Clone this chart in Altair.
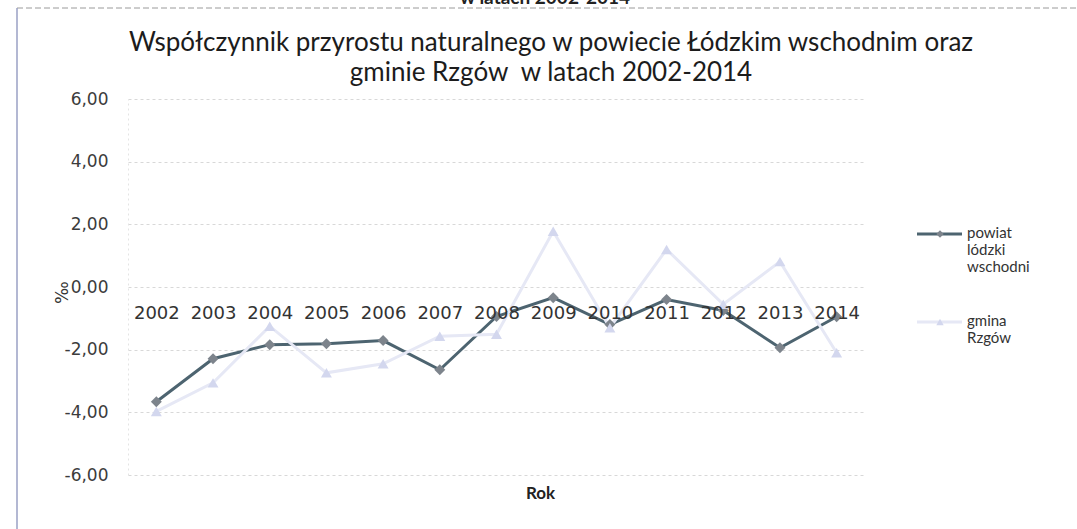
import altair as alt
import pandas as pd

# Natural increase rate (per mille), 2002-2014
years = [str(y) for y in range(2002, 2015)]
powiat = [-3.66, -2.29, -1.84, -1.81, -1.71, -2.64, -0.94, -0.34, -1.20, -0.40, -0.75, -1.94, -0.95]
gmina = [-3.97, -3.06, -1.25, -2.74, -2.45, -1.57, -1.51, 1.78, -1.30, 1.20, -0.55, 0.81, -2.10]

series_names = ["powiat|lódzki|wschodni", "gmina|Rzgów"]
series_colors = ["#4d6470", "#e6e8f5"]
marker_colors = ["#7d848c", "#d3d7ee"]
marker_shapes = ["diamond", "triangle-up"]

title_text = (
    "Współczynnik przyrostu naturalnego w powiecie Łódzkim wschodnim oraz"
    "|gminie Rzgów\u00a0 w latach 2002-2014"
)
heading_above = "w latach 2002-2014"
y_ticks = [-6, -4, -2, 0, 2, 4, 6]

rows = []
for name, vals in zip(series_names, [powiat, gmina]):
    for yr, v in zip(years, vals):
        rows.append({"Rok": yr, "seria": name, "wartosc": v})
df = pd.DataFrame(rows)

W, H = 737, 376

x_enc = alt.X(
    "Rok:O",
    sort=years,
    scale=alt.Scale(type="point", padding=0.5),
    axis=alt.Axis(
        offset=-188,
        labelAngle=0,
        ticks=False,
        domain=False,
        grid=False,
        labelFont="DejaVu Sans",
        labelFontSize=18,
        labelColor="#333333",
        labelPadding=17,
        zindex=1,
        title="Rok",
        titleFont="Lato",
        titleFontSize=17,
        titleFontWeight="bold",
        titleColor="#222222",
        titleX=412,
        titleY=206,
        titleBaseline="middle",
        titleAnchor="start",
        titleAlign="center",
    ),
)

y_enc = alt.Y(
    "wartosc:Q",
    scale=alt.Scale(domain=[-6, 6], nice=False, zero=False),
    axis=alt.Axis(
        values=y_ticks,
        labelExpr="replace(replace(format(datum.value, '.2f'), '.', ','), '\u2212', '-')",
        ticks=False,
        domain=True,
        domainColor="#e4e4e4",
        domainDash=[2, 3],
        grid=True,
        gridColor="#d8d8d8",
        gridDash=[3, 3],
        gridWidth=1,
        labelFont="DejaVu Sans",
        labelFontSize=17,
        labelColor="#3c3c3c",
        labelPadding=20,
        title="‰",
        titleFont="DejaVu Sans",
        titleFontSize=17,
        titleFontWeight="normal",
        titleColor="#333333",
        titleX=-66,
        titleY=193,
        titleAngle=270,
        titleBaseline="middle",
        titleAlign="center",
    ),
)

color_enc = alt.Color(
    "seria:N",
    sort=series_names,
    scale=alt.Scale(domain=series_names, range=series_colors),
    legend=None,
)

lines = alt.Chart(df).mark_line(strokeWidth=3).encode(
    x=x_enc, y=y_enc, color=color_enc
)

point_layers = []
for name, shape, fill in zip(series_names, marker_shapes, marker_colors):
    point_layers.append(
        alt.Chart(df)
        .transform_filter(alt.datum.seria == name)
        .mark_point(shape=shape, filled=True, fill=fill, size=120, opacity=1)
        .encode(x=alt.X("Rok:O", sort=years), y="wartosc:Q")
    )

# legend on the right: line sample with marker, label in stacked lines
legend_layers = []
legend_rows_y = [135, 223]
for name, lc, mc, shape, ly in zip(series_names, series_colors, marker_colors, marker_shapes, legend_rows_y):
    src = pd.DataFrame({"seria": [name]})
    legend_layers.append(
        alt.Chart(src).mark_rule(color=lc, strokeWidth=3).encode(
            x=alt.value(789), x2=alt.value(834), y=alt.value(ly)
        )
    )
    legend_layers.append(
        alt.Chart(src).mark_point(shape=shape, filled=True, fill=mc, size=55, opacity=1).encode(
            x=alt.value(812), y=alt.value(ly)
        )
    )
    legend_layers.append(
        alt.Chart(src).mark_text(
            lineBreak="|", lineHeight=17, font="Lato", fontSize=15, color="#333333",
            align="left", baseline="top",
        ).encode(x=alt.value(839), y=alt.value(ly - 8), text="seria:N")
    )

# page frame: dashed top edge and a plain left edge
frame_src = pd.DataFrame({"k": [0]})
top_edge = alt.Chart(frame_src).mark_rule(
    color="#9a9a9a", strokeDash=[6, 3], strokeWidth=1
).encode(x=alt.value(-111), x2=alt.value(949), y=alt.value(-91))
left_edge = alt.Chart(frame_src).mark_rule(
    color="#9aa0c4", strokeWidth=1.5
).encode(x=alt.value(-111), y=alt.value(-91), y2=alt.value(430))

# bottom of the heading printed above the chart frame
heading = alt.Chart(frame_src).mark_text(
    text=heading_above, font="Lato", fontSize=19, fontWeight="bold",
    color="#222222", baseline="alphabetic", align="center",
).encode(x=alt.value(417), y=alt.value(-95))

# two-line chart title
title_src = pd.DataFrame({"t": [title_text]})
title_mark = alt.Chart(title_src).mark_text(
    lineBreak="|", lineHeight=30, font="Lato", fontSize=26, color="#1c1c1c",
    align="center", baseline="middle",
).encode(x=alt.value(423), y=alt.value(-56), text="t:N")

chart = (
    alt.layer(top_edge, left_edge, heading, title_mark, lines, *point_layers, *legend_layers)
    .properties(
        width=W,
        height=H,
        autosize=alt.AutoSizeParams(type="none"),
        padding={"left": 128, "top": 99, "right": 212, "bottom": 54},
        background="white",
    )
    .configure_view(stroke=None)
)

chart.save("out.html", embed_options={"renderer": "svg", "actions": False})
